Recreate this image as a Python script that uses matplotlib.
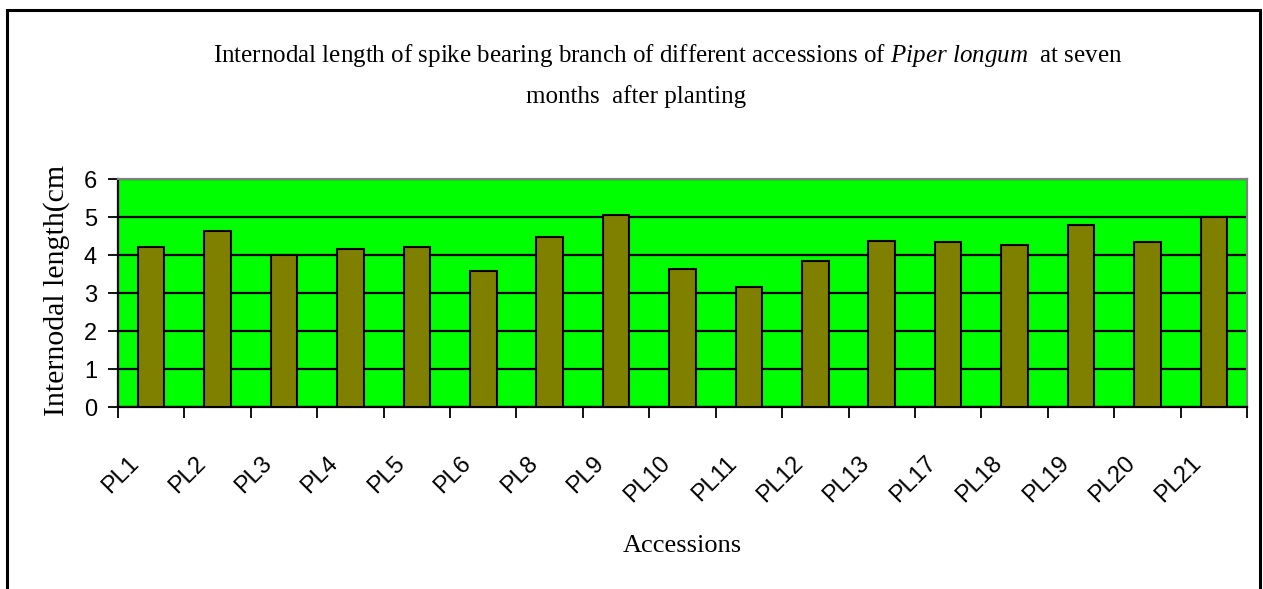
import matplotlib
matplotlib.use('Agg')
import matplotlib.pyplot as plt
from matplotlib.patches import Rectangle

plt.rcParams['mathtext.fontset'] = 'custom'
plt.rcParams['mathtext.rm'] = 'Liberation Serif'
plt.rcParams['mathtext.it'] = 'Liberation Serif:italic'

# internodal length (cm) per accession
accessions = ['PL1', 'PL2', 'PL3', 'PL4', 'PL5', 'PL6', 'PL8', 'PL9', 'PL10',
              'PL11', 'PL12', 'PL13', 'PL17', 'PL18', 'PL19', 'PL20', 'PL21']
lengths = [4.21, 4.64, 4.00, 4.17, 4.21, 3.59, 4.48, 5.06, 3.64,
           3.17, 3.85, 4.38, 4.33, 4.27, 4.80, 4.33, 5.00]
y_ticks = [0, 1, 2, 3, 4, 5, 6]

fig = plt.figure(figsize=(12.63, 5.89), dpi=100)
ax = fig.add_axes([118 / 1263, 1 - 407 / 589, 1129 / 1263, 228 / 589])

x = list(range(len(accessions)))
ax.set_facecolor('#00ff00')
ax.bar(x, lengths, width=0.4, color='#808000', edgecolor='black', linewidth=1.5, zorder=3)

ax.set_xlim(-0.5, len(accessions) - 0.5)
ax.set_ylim(0, 6)
ax.set_yticks(y_ticks)
ax.yaxis.grid(True, color='black', linewidth=1.6, zorder=1)
ax.set_axisbelow(True)

# ticks between categories, labels under each bar (label end sits a bit left of centre)
ax.set_xticks([i - 0.5 for i in range(len(accessions) + 1)])
ax.set_xticklabels([])
ax.set_xticks([i - 0.17 for i in x], minor=True)
ax.set_xticklabels(accessions, minor=True, rotation=45, ha='right', va='baseline',
                   rotation_mode='anchor', fontsize=17, family='Liberation Sans')
ax.tick_params(axis='x', which='minor', length=0, pad=41)
ax.tick_params(axis='x', which='major', length=8, width=1.3, direction='out')
ax.tick_params(axis='y', length=7.2, width=1.3, labelsize=17, pad=8)
for lbl in ax.get_yticklabels():
    lbl.set_family('Liberation Sans')

for s in ['left', 'bottom']:
    ax.spines[s].set_color('black')
    ax.spines[s].set_linewidth(1.6)
for s in ['top', 'right']:
    ax.spines[s].set_color('#808080')
    ax.spines[s].set_linewidth(1.6)

ax.set_ylabel('Internodal length(cm', family='Liberation Serif', fontsize=21.5)
ax.yaxis.set_label_coords(-0.0425, 0.51)
ax.set_xlabel('Accessions', family='Liberation Serif', fontsize=19, va='baseline')
ax.xaxis.set_label_coords(0.5, -0.636)

fig.text(668 / 1263, 1 - 62 / 589,
         r'Internodal length of spike bearing branch of different accessions of '
         r'$\it{Piper\ longum}$  at seven',
         ha='center', va='baseline', family='Liberation Serif', fontsize=18)
fig.text(636 / 1263, 1 - 103 / 589, 'months  after planting', ha='center', va='baseline',
         family='Liberation Serif', fontsize=18)

# outer frame of the chart object
fig.patches.append(Rectangle((7 / 1263, -0.02), 1253 / 1263, 0.02 + 1 - 10 / 589,
                             transform=fig.transFigure, fill=False,
                             edgecolor='black', linewidth=2.2))

fig.savefig('out.png', dpi=100)
